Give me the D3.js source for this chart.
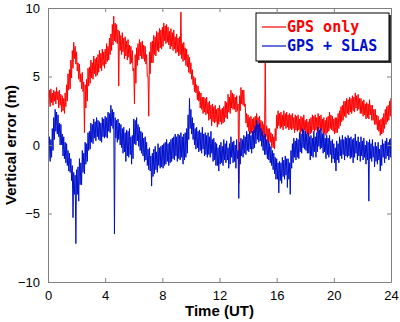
<!DOCTYPE html>
<html>
<head>
<meta charset="utf-8">
<script src="https://cdn.jsdelivr.net/npm/d3@7"></script>
<style>
  html, body { margin: 0; padding: 0; background: #fff; }
  svg { display: block; }
  .tick text { font-family: Arial, "Liberation Sans", sans-serif; font-size: 13px; fill: #000; }
</style>
</head>
<body>
<svg id="chart" width="400" height="322"></svg>
<script>
// Vertical positioning error over one day. Each 0.1 h bin holds the upper and
// lower extent of the fast-varying error (m); the trace swings between them.
const gpsOnlyHigh = [
  3.9, 4.0, 4.1, 3.8, 4.0, 3.9, 4.2, 3.9, 4.0, 3.7,
  3.6, 3.4, 3.8, 4.4, 5.2, 5.5, 6.2, 6.9, 7.5, 7.2,
  6.8, 6.0, 5.9, 5.2, 5.3, 4.6, 4.4, 4.8, 5.6, 5.7,
  6.2, 6.0, 6.5, 6.3, 6.4, 6.6, 6.9, 6.7, 7.0, 6.8,
  7.0, 7.4, 7.2, 7.8, 8.1, 8.8, 9.4, 8.9, 8.8, 8.4,
  8.3, 8.0, 8.2, 7.8, 7.9, 7.6, 7.7, 7.3, 7.2, 6.9,
  5.6, 6.6, 7.1, 7.4, 7.7, 7.5, 7.6, 7.3, 7.2, 6.6,
  5.0, 6.8, 7.5, 7.6, 8.0, 7.9, 8.3, 8.2, 8.5, 8.4,
  8.6, 8.9, 8.7, 8.8, 8.6, 8.3, 8.5, 8.2, 8.4, 7.9,
  8.1, 7.8, 7.9, 9.7, 7.4, 7.5, 7.1, 7.0, 6.6, 6.4,
  6.0, 5.5, 5.0, 4.9, 4.4, 4.3, 3.9, 3.8, 3.5, 3.5,
  3.4, 3.5, 3.1, 3.2, 2.9, 3.0, 2.8, 2.9, 2.6, 2.7,
  2.9, 2.6, 2.7, 2.8, 3.2, 3.1, 3.7, 3.5, 4.0, 3.8,
  3.7, 3.5, 3.6, 3.0, 3.6, 4.2, 4.0, 4.0, 3.0, 2.3,
  2.2, 2.0, 2.1, 1.9, 2.0, 2.1, 2.3, 2.0, 2.1, 1.8,
  1.7, 1.5, 6.2, 1.4, 1.2, 1.2, 0.9, 0.8, 0.6, 1.2,
  2.2, 2.5, 2.3, 2.4, 2.2, 2.5, 2.3, 2.4, 2.2, 2.3,
  2.2, 2.3, 2.0, 2.2, 2.1, 2.2, 1.9, 2.1, 2.0, 2.2,
  1.8, 1.9, 1.7, 1.9, 2.0, 2.2, 2.1, 2.2, 2.0, 2.3,
  2.1, 2.2, 1.9, 2.0, 1.8, 2.0, 2.1, 2.4, 2.2, 2.1,
  1.9, 2.0, 2.0, 2.3, 2.5, 2.8, 2.9, 3.2, 3.2, 3.4,
  3.3, 3.5, 3.4, 3.6, 3.5, 3.8, 3.6, 3.7, 3.4, 3.4,
  3.2, 3.3, 3.0, 3.1, 3.0, 3.3, 2.9, 2.9, 2.6, 2.6,
  2.2, 2.1, 1.8, 1.9, 2.0, 2.3, 2.6, 2.8, 2.9, 3.2,
  3.4
];
const gpsOnlyLow = [
  3.0, 2.8, 3.1, 2.9, 3.2, 3.0, 3.3, 2.7, 2.9, 2.4,
  2.5, 2.3, 2.8, 3.2, 4.0, 4.1, 4.9, 5.6, 6.3, 5.9,
  5.4, 4.8, 4.6, 4.1, 3.9, 0.9, 2.7, 3.2, 4.3, 4.5,
  4.9, 4.8, 5.2, 5.0, 5.1, 5.3, 5.6, 5.4, 5.8, 5.6,
  5.9, 6.1, 6.2, 6.6, 6.9, 7.3, 7.6, 7.5, 7.4, 4.3,
  6.9, 6.6, 6.8, 6.3, 6.5, 6.2, 6.4, 5.9, 6.0, 5.4,
  3.0, 4.5, 5.8, 6.2, 6.5, 6.3, 6.3, 6.1, 5.9, 5.0,
  2.1, 5.2, 6.0, 6.0, 6.6, 6.5, 6.9, 6.8, 7.1, 7.0,
  7.2, 7.6, 7.4, 7.5, 7.3, 7.0, 7.2, 6.9, 7.0, 6.7,
  6.8, 6.5, 6.6, 6.3, 6.1, 6.2, 5.8, 5.7, 5.3, 5.2,
  4.8, 4.4, 3.9, 3.8, 3.3, 3.2, 2.7, 2.6, 2.3, 2.4,
  2.2, 2.3, 1.8, 1.9, 1.4, 1.7, 1.6, 1.7, 1.3, 1.5,
  1.7, 1.5, 1.6, 1.7, 2.0, 1.9, 2.4, 2.3, 2.7, 2.6,
  2.6, 2.4, 2.5, -2.8, 2.5, 3.0, 2.9, 2.8, 1.6, 1.3,
  1.0, 0.8, 0.9, 0.7, 0.9, 1.0, 1.2, 0.9, 1.0, 0.7,
  0.6, 0.4, 0.6, 0.3, 0.1, 0.2, -0.1, -0.2, -0.3, 0.3,
  1.2, 1.4, 1.2, 1.3, 1.1, 1.4, 1.2, 1.3, 1.1, 1.2,
  1.1, 1.2, 0.9, 1.1, 1.0, 1.1, 0.8, 1.0, 0.9, 1.1,
  0.7, 0.8, 0.6, 0.8, 0.9, 1.1, 1.0, 1.1, 0.9, 1.2,
  1.0, 1.1, 0.8, 0.9, 0.7, 0.9, 1.0, 1.2, 1.1, 1.0,
  0.8, 0.9, 0.9, 1.2, 1.4, 1.7, 1.8, 2.1, 2.0, 2.3,
  2.2, 2.4, 2.3, 2.5, 2.4, 2.7, 2.5, 2.6, 2.3, 2.3,
  2.1, 2.2, 1.9, 2.0, 1.9, 2.2, 1.8, 1.8, 1.5, 1.5,
  1.1, 1.0, 0.7, 0.8, 0.9, 1.2, 1.5, 1.7, 1.8, 2.1,
  2.4
];

const gpsSlasHigh = [
  0.5, 0.6, 0.4, 1.2, 2.0, 2.6, 2.4, 2.2, 1.6, 1.5,
  0.8, 0.6, 0.2, 0.1, -0.4, -0.6, -1.0, -1.5, -2.0, -2.2,
  -1.8, -1.6, -1.0, -1.3, -0.4, -0.6, 0.2, 0.1, 0.9, 1.0,
  1.6, 1.5, 1.9, 1.7, 2.0, 1.8, 1.7, 1.6, 2.0, 1.9,
  2.1, 2.0, 2.4, 2.3, 2.9, 2.6, 2.4, 2.0, 1.8, 1.9,
  1.6, 1.5, 1.2, 1.3, 0.9, 1.1, 1.0, 1.2, 0.6, 0.7,
  1.9, 1.8, 2.0, 1.5, 1.3, 1.0, 0.9, 0.5, 0.6, 0.2,
  -0.3, -0.2, -0.8, -0.6, -0.3, -0.1, -0.5, 0.1, -0.2, -0.1,
  0.0, 0.1, 0.2, 0.4, 0.1, 0.2, 0.4, 0.5, 0.6, 0.8,
  0.6, 0.8, 0.7, 0.9, 0.6, 0.8, 0.9, 1.2, 2.2, 3.4,
  2.6, 2.0, 1.6, 1.2, 1.3, 1.0, 1.1, 0.9, 1.3, 0.8,
  0.9, 0.7, 0.9, 0.6, 1.0, 0.4, 0.5, 0.2, 0.1, -0.2,
  0.0, 0.2, -0.1, 0.4, 0.1, 0.3, -0.2, 0.1, 0.6, 0.2,
  0.3, 0.0, 0.4, -0.4, 0.2, 0.5, 0.4, 0.7, 0.6, 1.0,
  0.8, 1.0, 0.7, 1.0, 1.1, 1.4, 1.8, 1.5, 1.6, 1.2,
  1.0, 0.7, 0.8, 0.4, 0.3, 0.1, -0.1, -0.4, -0.6, -0.9,
  -1.0, -1.3, -1.2, -1.3, -0.9, -1.1, -0.8, -1.0, -1.0, -1.3,
  -0.4, 0.1, 0.5, 0.3, 0.5, 0.4, 0.9, 0.8, 1.2, 1.1,
  1.0, 0.8, 0.9, 0.6, 0.7, 0.5, 1.0, 0.6, 0.9, 1.3,
  1.1, 1.2, 0.8, 0.9, 0.5, 0.7, 0.5, 0.7, 0.3, 0.4,
  0.1, -0.2, 0.3, 0.1, 0.6, 0.4, 0.7, 0.4, 0.6, 0.5,
  0.7, 0.5, 0.6, 0.4, 0.5, 0.8, 0.3, 0.6, 0.2, 0.6,
  0.3, 0.5, 0.0, 0.3, 0.2, 0.4, 0.1, 0.4, -0.1, 0.2,
  -0.1, 0.2, -0.3, 0.0, 0.4, 0.1, 0.3, 0.5, 0.2, 0.4,
  0.5
];
const gpsSlasLow = [
  -1.0, -1.2, -0.9, -0.4, 0.4, 1.0, 0.8, 0.6, 0.0, 0.0,
  -0.8, -1.0, -1.3, -1.5, -1.9, -2.0, -2.6, -5.3, -3.6, -7.2,
  -3.6, -4.1, -2.9, -2.9, -2.0, -2.1, -1.4, -1.2, -0.4, -0.3,
  0.2, 0.1, 0.5, 0.3, 0.6, 0.4, 0.3, 0.2, 0.6, 0.5,
  0.6, 0.5, 1.0, 0.9, 1.4, 1.2, -6.5, 0.5, 0.2, 0.4,
  0.0, -0.2, -0.6, -0.5, -1.2, -0.8, -0.9, -0.7, -1.4, -1.0,
  0.1, 0.0, 0.3, -0.1, -0.4, -0.6, -0.8, -1.2, -1.1, -1.5,
  -1.8, -1.9, -3.0, -2.3, -2.1, -1.8, -2.0, -1.5, -1.7, -1.6,
  -1.7, -1.5, -1.4, -1.2, -1.5, -1.3, -1.2, -1.0, -1.1, -0.8,
  -1.2, -1.0, -1.1, -0.9, -1.4, -1.1, -0.9, -0.6, 0.4, 1.2,
  0.8, 0.4, 0.0, -0.3, -0.2, -0.5, -0.4, -0.6, -0.3, -0.8,
  -0.7, -0.9, -0.7, -0.9, -0.6, -1.2, -1.1, -1.5, -1.5, -1.9,
  -1.4, -1.3, -1.5, -1.1, -1.3, -1.1, -1.7, -1.4, -0.9, -1.3,
  -1.2, -1.7, -1.0, -3.9, -1.4, -0.8, -0.9, -0.6, -0.7, -0.4,
  -0.5, -0.3, -0.6, -0.3, -0.2, 0.1, 0.4, 0.2, 0.3, -0.1,
  -0.4, -0.7, -0.7, -1.0, -1.1, -1.3, -1.5, -1.8, -2.1, -2.5,
  -2.5, -3.5, -2.6, -2.8, -2.3, -2.5, -2.2, -3.1, -2.5, -3.6,
  -1.7, -1.3, -0.9, -1.1, -0.9, -1.0, -0.5, -0.6, -0.2, -0.3,
  -0.4, -0.6, -0.6, -1.1, -0.8, -0.9, -0.5, -0.9, -0.5, -0.1,
  -0.3, -0.2, -0.6, -0.5, -1.0, -0.7, -0.9, -0.7, -1.3, -1.0,
  -1.3, -1.9, -1.1, -1.3, -0.8, -1.0, -0.7, -1.1, -0.8, -0.9,
  -0.8, -1.0, -0.9, -1.3, -0.9, -0.6, -1.1, -0.8, -1.2, -0.8,
  -1.1, -0.9, -1.4, -1.1, -4.1, -1.0, -1.2, -0.9, -1.6, -1.2,
  -1.4, -1.1, -1.9, -1.5, -0.9, -1.3, -1.0, -0.8, -1.1, -0.9,
  -0.6
];

const binHours = 0.1;
const xTicks = [0, 4, 8, 12, 16, 20, 24];
const yTicks = [-10, -5, 0, 5, 10];
const seriesNames = ["GPS only", "GPS + SLAS"];
const seriesColors = ["#ff0000", "#0010cc"];

const svg = d3.select("#chart");
const margin = { left: 48, right: 9, top: 8, bottom: 40 };
const W = 400, H = 322;
const plotW = W - margin.left - margin.right;
const plotH = H - margin.top - margin.bottom;

const x = d3.scaleLinear().domain([0, 24]).range([0, plotW]);
const y = d3.scaleLinear().domain([-10, 10]).range([plotH, 0]);

const g = svg.append("g").attr("transform", `translate(${margin.left},${margin.top})`);

g.append("defs").append("clipPath").attr("id", "plotClip")
  .append("rect").attr("width", plotW).attr("height", plotH);

// Interleave each bin's upper and lower extent into one trace
function toTrace(high, low) {
  const pts = [];
  high.forEach((h, i) => {
    const t = i * binHours;
    pts.push([t, h]);
    pts.push([Math.min(24, t + binHours / 2), low[i]]);
  });
  return pts;
}

const line = d3.line()
  .x(d => x(d[0]))
  .y(d => y(d[1]));

const traces = g.append("g").attr("clip-path", "url(#plotClip)");
[[gpsOnlyHigh, gpsOnlyLow], [gpsSlasHigh, gpsSlasLow]].forEach(([hi, lo], k) => {
  traces.append("path")
    .datum(toTrace(hi, lo))
    .attr("fill", "none")
    .attr("stroke", seriesColors[k])
    .attr("stroke-width", 1)
    .attr("d", line);
});

// Axes with inward ticks on all four sides
const axisColor = "#808080";
function styleAxis(sel) {
  sel.select(".domain").attr("stroke", axisColor);
  sel.selectAll(".tick line").attr("stroke", axisColor);
}
g.append("g").attr("transform", `translate(0,${plotH})`)
  .call(d3.axisBottom(x).tickValues(xTicks).tickSizeInner(-4).tickSizeOuter(0).tickPadding(9))
  .call(styleAxis);
g.append("g")
  .call(d3.axisTop(x).tickValues(xTicks).tickSizeInner(-4).tickSizeOuter(0).tickFormat(""))
  .call(styleAxis);
g.append("g")
  .call(d3.axisLeft(y).tickValues(yTicks).tickSizeInner(-4).tickSizeOuter(0).tickPadding(8))
  .call(styleAxis);
g.append("g").attr("transform", `translate(${plotW},0)`)
  .call(d3.axisRight(y).tickValues(yTicks).tickSizeInner(-4).tickSizeOuter(0).tickFormat(""))
  .call(styleAxis);

// Axis titles
svg.append("text")
  .attr("x", margin.left + plotW / 2).attr("y", 316)
  .attr("text-anchor", "middle")
  .style("font-family", "Arial, 'Liberation Sans', sans-serif")
  .style("font-weight", "bold").style("font-size", "15px")
  .text("Time (UT)");
svg.append("text")
  .attr("transform", `translate(16,${margin.top + plotH / 2}) rotate(-90)`)
  .attr("text-anchor", "middle")
  .style("font-family", "Arial, 'Liberation Sans', sans-serif")
  .style("font-weight", "bold").style("font-size", "15px")
  .text("Vertical error (m)");

// Legend
const lg = svg.append("g").attr("transform", "translate(256,13)");
const lgW = 133, lgH = 48;
lg.append("rect").attr("x", 2).attr("y", 2).attr("width", lgW).attr("height", lgH).attr("fill", "#333");
lg.append("rect").attr("width", lgW).attr("height", lgH).attr("fill", "#fff").attr("stroke", "#000").attr("stroke-width", 1);
seriesNames.forEach((name, k) => {
  const yy = 14 + k * 19;
  lg.append("line").attr("x1", 6).attr("x2", 30).attr("y1", yy).attr("y2", yy)
    .attr("stroke", seriesColors[k]).attr("stroke-width", 1.2);
  lg.append("text").attr("x", 31).attr("y", yy + 5)
    .style("font-family", "'DejaVu Sans Mono', monospace")
    .style("font-weight", "bold").style("font-size", "15px")
    .attr("fill", seriesColors[k])
    .text(name);
});
</script>
</body>
</html>
